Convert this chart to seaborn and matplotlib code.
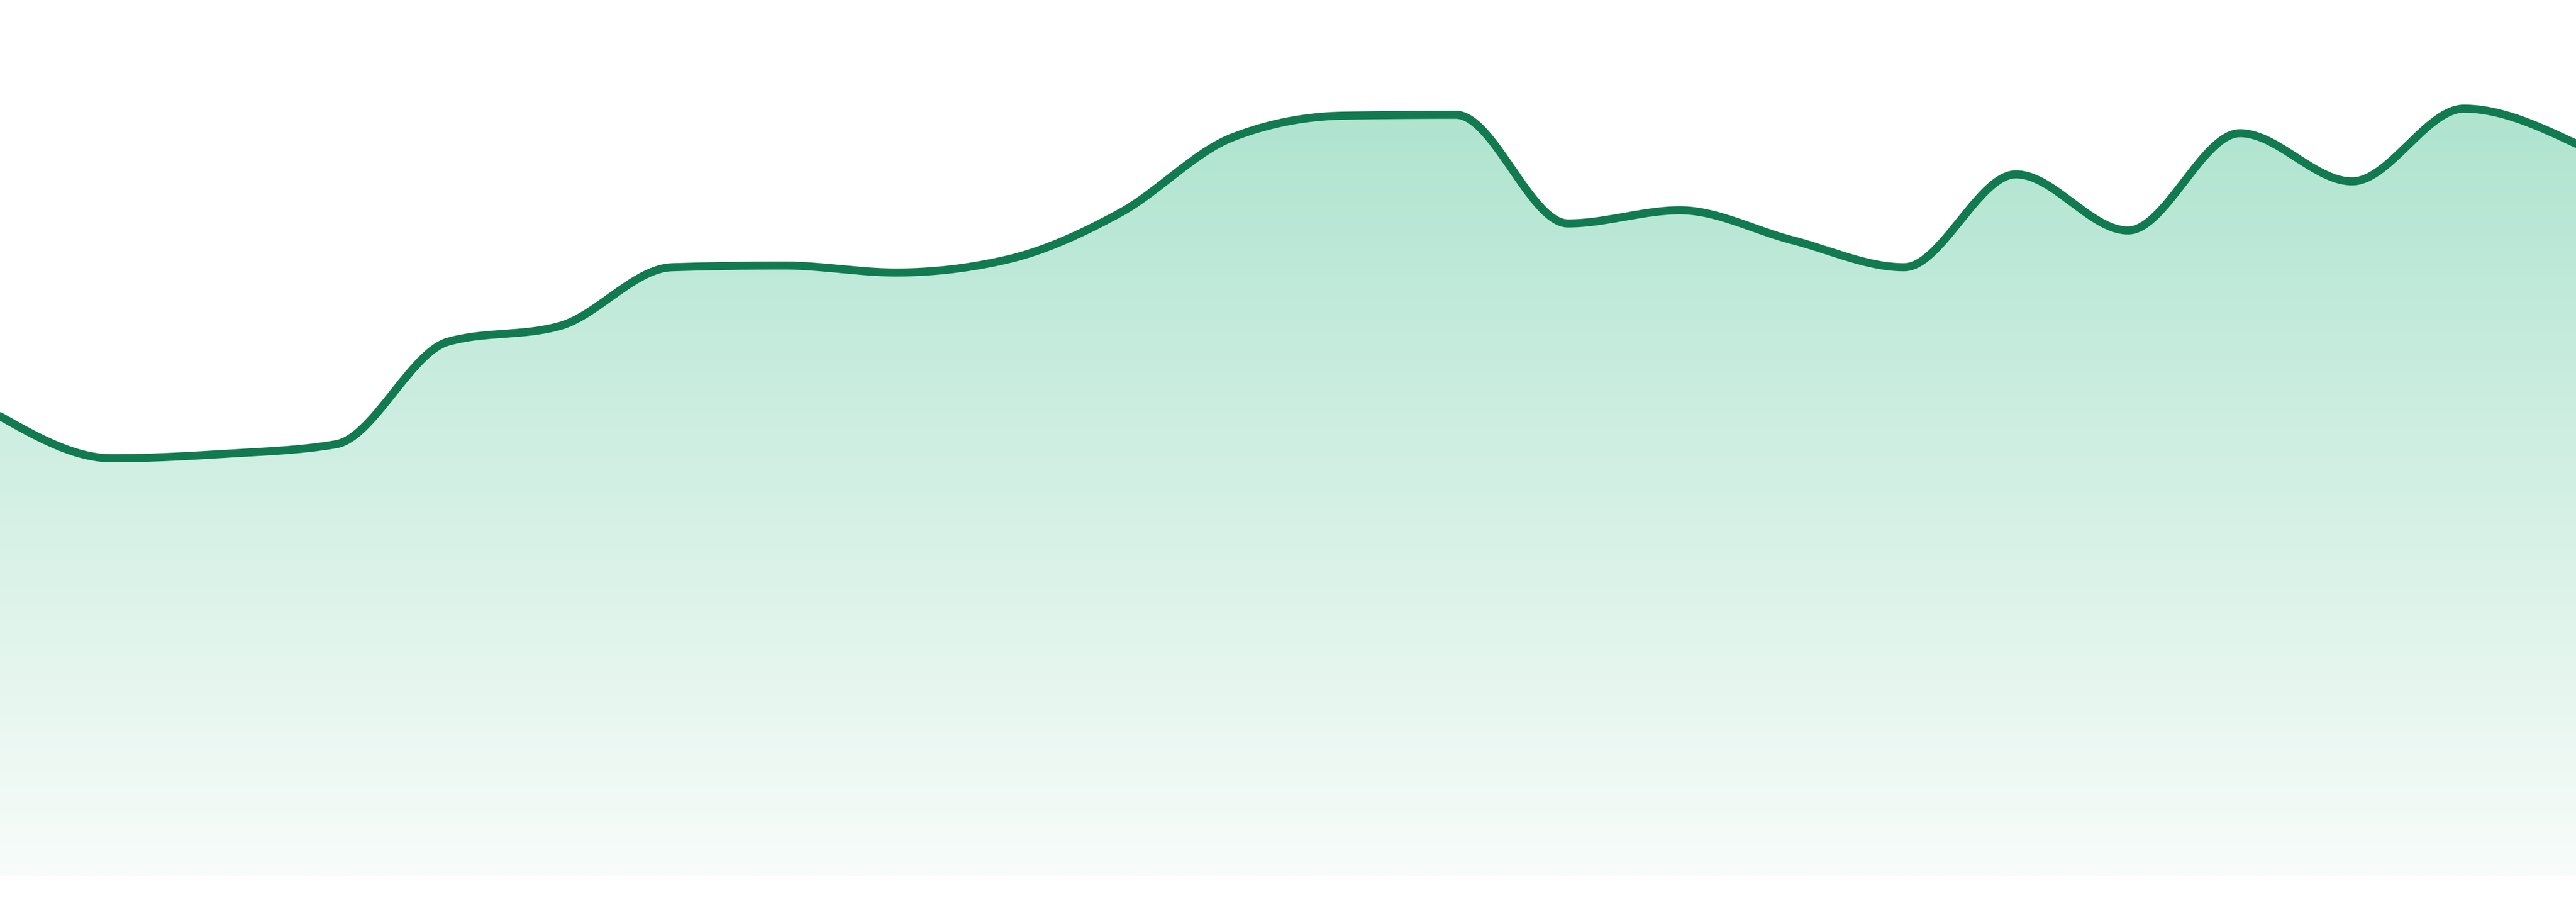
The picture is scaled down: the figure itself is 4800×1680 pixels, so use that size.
import numpy as np
import pandas as pd
import matplotlib
matplotlib.use("Agg")
import matplotlib.pyplot as plt
import seaborn as sns
from matplotlib.colors import LinearSegmentedColormap

# ---- data ----
periods = list(range(24))
values = [52.5, 47.7, 48.2, 49.3, 61.0, 62.8, 69.5, 69.7, 68.9, 70.4, 75.7, 84.3,
          86.8, 86.9, 74.5, 76.0, 72.6, 69.5, 80.1, 73.7, 84.8, 79.3, 87.6, 83.6]

LINE_COLOR = "#127a51"
FILL_TOP = "#afe4cf"
FILL_BOTTOM = "#f8fcfa"


def monotone_x(x, y, n=60):
    """d3.curveMonotoneX style interpolation."""
    x = np.asarray(x, float)
    y = np.asarray(y, float)
    h = np.diff(x)
    s = np.diff(y) / h
    m = len(x)
    t = np.zeros(m)
    sgn = lambda v: -1.0 if v < 0 else 1.0
    for i in range(1, m - 1):
        s0, s1 = s[i - 1], s[i]
        p = (s0 * h[i] + s1 * h[i - 1]) / (h[i - 1] + h[i])
        t[i] = (sgn(s0) + sgn(s1)) * min(abs(s0), abs(s1), 0.5 * abs(p))
    t[0] = (3 * s[0] - t[1]) / 2
    t[-1] = (3 * s[-1] - t[-2]) / 2
    xs, ys = [], []
    for i in range(m - 1):
        u = np.linspace(0, 1, n, endpoint=(i == m - 2))
        h00 = 2 * u**3 - 3 * u**2 + 1
        h10 = u**3 - 2 * u**2 + u
        h01 = -2 * u**3 + 3 * u**2
        h11 = u**3 - u**2
        xs.append(x[i] + u * h[i])
        ys.append(h00 * y[i] + h10 * h[i] * t[i] + h01 * y[i + 1] + h11 * h[i] * t[i + 1])
    return np.concatenate(xs), np.concatenate(ys)


sns.set_theme(style="white")

fig = plt.figure(figsize=(16, 5.6), dpi=300, facecolor="white")
ax = fig.add_axes([0, 48 / 1680, 1, 1632 / 1680])
ax.set_facecolor("none")

xs, ys = monotone_x(periods, values)
curve = pd.DataFrame({"period": xs, "value": ys})

# gradient area fill
poly = ax.fill_between(curve["period"], curve["value"], 0, color="none", linewidth=0)
cmap = LinearSegmentedColormap.from_list("grad", [FILL_BOTTOM, FILL_TOP])
grad = np.linspace(0, 1, 512).reshape(-1, 1)
vmax = max(values)
im = ax.imshow(grad, extent=[periods[0], periods[-1], 0, vmax], origin="lower",
               aspect="auto", cmap=cmap, zorder=1, interpolation="bilinear")
im.set_clip_path(poly.get_paths()[0], transform=ax.transData)

# line
sns.lineplot(data=curve, x="period", y="value", ax=ax, color=LINE_COLOR,
             linewidth=3.6, zorder=3, sort=False)

ax.set_xlim(periods[0], periods[-1])
ax.set_ylim(0, 100)
ax.axis("off")

fig.savefig("out.png", dpi=300, facecolor="white")
